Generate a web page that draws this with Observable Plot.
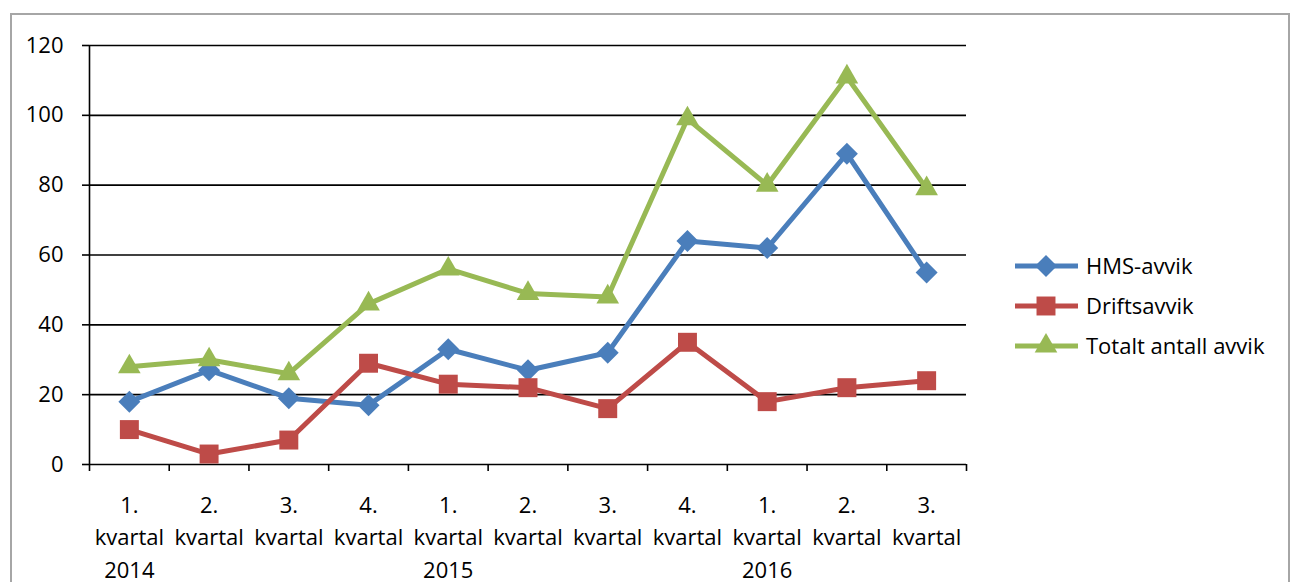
<!DOCTYPE html>
<html><head><meta charset="utf-8">
<script src="https://cdn.jsdelivr.net/npm/d3@7"></script>
<script src="https://cdn.jsdelivr.net/npm/@observablehq/plot@0.6"></script>
<style>
body{margin:0;background:#fff;overflow:hidden}
#wrap{position:relative;width:1296px;height:582px}
#frame{position:absolute;left:10px;top:13px;width:1280px;height:620px;border:2px solid #a6a6a6;box-sizing:border-box}
#chart{position:absolute;left:0;top:0}
</style></head><body><div id="wrap"><div id="frame"></div><div id="chart"></div></div>
<script>
const quarters = ["1.","2.","3.","4.","1.","2.","3.","4.","1.","2.","3."];
const years = ["2014","","","","2015","","","","2016","",""];
const hms = [18,27,19,17,33,27,32,64,62,89,55];
const drift = [10,3,7,29,23,22,16,35,18,22,24];
const total = [28,30,26,46,56,49,48,99,80,111,79];
const seriesNames = ["HMS-avvik","Driftsavvik","Totalt antall avvik"];
const seriesValues = [hms, drift, total];
const seriesColors = ["#4a7ebb","#be4b48","#98b954"];
const seriesSymbols = ["diamond2","square","triangle"];
const seriesR = [9.9, 10.7, 8.4];
const yTicks = [0,20,40,60,80,100,120];

const font = "'Open Sans', sans-serif";
const marks = [
  Plot.ruleY(yTicks, {stroke:"#000", strokeWidth:1.6}),
  Plot.ruleX([0], {stroke:"#000", strokeWidth:1.6}),
  Plot.axisY({ticks:yTicks, tickSize:7, tickPadding:19, label:null, stroke:"#000", strokeWidth:1.6, fontSize:22, fill:"#000"}),
  Plot.axisX({ticks:d3.range(12), tickSize:7, tickFormat:()=>"", label:null, stroke:"#000", strokeWidth:1.6}),
  Plot.text(d3.range(quarters.length), {
    x: i => i + 0.5, y: () => 0,
    text: i => quarters[i] + "\nkvartal" + (years[i] ? "\n" + years[i] : ""),
    lineAnchor:"top", dy:25, lineHeight:1.48, fontSize:22, fill:"#000"
  })
];
seriesValues.forEach((vals, s) => {
  const rows = vals.map((v, i) => ({i, v}));
  marks.push(Plot.line(rows, {x: d => d.i + 0.5, y:"v", stroke:seriesColors[s], strokeWidth:5, strokeLinejoin:"round", strokeLinecap:"round"}));
  marks.push(Plot.dot(rows, {x: d => d.i + 0.5, y:"v", symbol:seriesSymbols[s], r:seriesR[s], fill:seriesColors[s], stroke:"none"}));
});

const chart = Plot.plot({
  width:1296, height:582,
  marginLeft:89, marginRight:330, marginTop:45, marginBottom:118,
  style:{fontFamily:font, fontSize:"22px", color:"#000", background:"transparent", overflow:"visible"},
  x:{domain:[0,11]},
  y:{domain:[0,120]},
  marks
});

// legend
const svg = d3.select(chart);
const symMap = {diamond2:d3.symbolDiamond2, square:d3.symbolSquare, triangle:d3.symbolTriangle};
const lg = svg.append("g").attr("text-anchor","start");
const legendY = [266, 306, 346];
seriesNames.forEach((name, s) => {
  const g = lg.append("g").attr("transform", `translate(0,${legendY[s]})`);
  g.append("line").attr("x1",1015).attr("x2",1078).attr("y1",0).attr("y2",0)
    .attr("stroke",seriesColors[s]).attr("stroke-width",5);
  g.append("path").attr("transform","translate(1046,0)")
    .attr("d", d3.symbol(symMap[seriesSymbols[s]], Math.PI*seriesR[s]*seriesR[s])())
    .attr("fill", seriesColors[s]);
  g.append("text").attr("x",1086).attr("y",0).attr("dy","0.35em").attr("text-anchor","start")
    .attr("font-size",22).attr("font-family",font).attr("fill","#000").text(name);
});
document.getElementById("chart").appendChild(chart);
</script>
</body></html>
